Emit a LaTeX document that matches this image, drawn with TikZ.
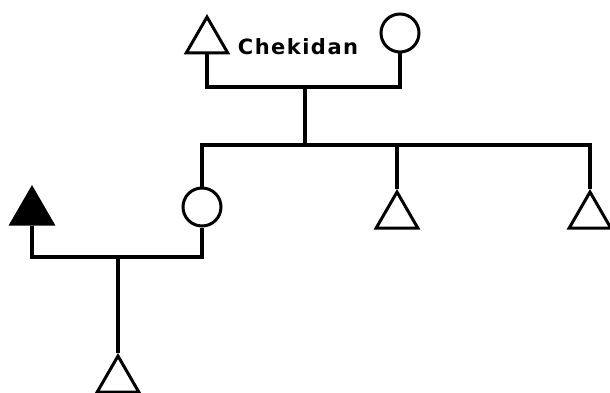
\documentclass[tikz,border=0pt]{standalone}
\usepackage{fontspec}
\newfontfamily\handfont[LetterSpace=7]{DejaVu Sans}
\usetikzlibrary{shapes.geometric}
\begin{document}
\begin{tikzpicture}[x=1pt,y=-1pt,line width=3.4pt,
  male/.style={regular polygon,regular polygon sides=3,draw,minimum size=48pt,inner sep=0pt,line width=3pt},
  malefilled/.style={male,fill=black},
  female/.style={circle,draw,minimum size=38pt,inner sep=0pt,line width=3pt},
  lbl/.style={font=\handfont\bfseries\fontsize{21}{21}\selectfont,inner sep=0pt}]
\useasboundingbox (0,0) rectangle (610,393);
% nodes
\node[male] (ego1) at (207,41) {};
\node[female] (wife1) at (400,33) {};
\node[lbl] (name) at (298,47) {Chekidan};
\node[female] (dau) at (202,207) {};
\node[male] (son1) at (397,216) {};
\node[male] (son2) at (590,216) {};
\node[malefilled] (hus) at (32,212) {};
\node[male] (gson) at (118,380) {};
% coordinates
\coordinate (m1) at (305,87);
\coordinate (s1) at (305,145);
\coordinate (m2) at (118,257);
% connectors
\draw (ego1.side 2) |- (m1) -| (wife1.south);
\draw (m1) -- (s1);
\draw (dau.north) |- (s1) -| (son2.corner 1);
\draw (son1.corner 1) -- (son1.corner 1 |- s1);
\draw (hus.side 2) |- (m2) -| (dau.south);
\draw (m2) -- (gson.corner 1);
\end{tikzpicture}
\end{document}
